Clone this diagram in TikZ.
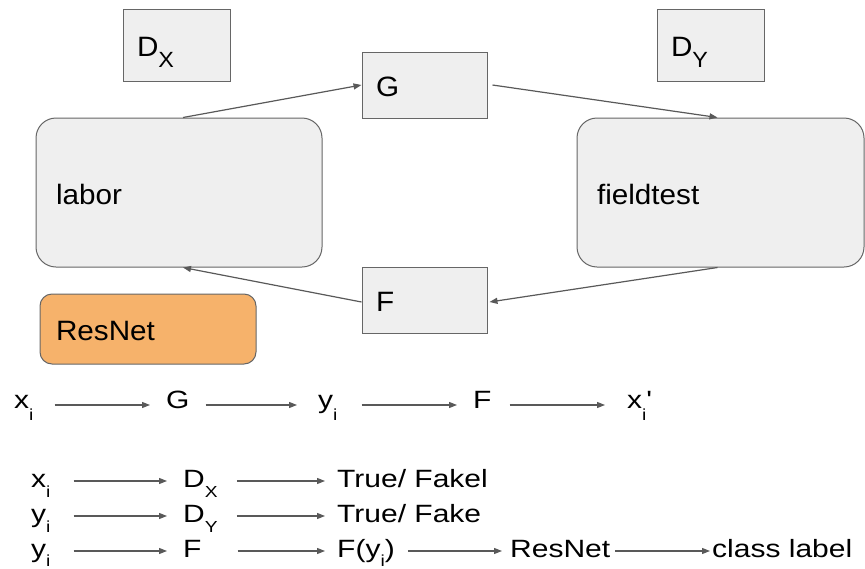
\documentclass[tikz,border=0pt]{standalone}
\usepackage{fontspec}
\setmainfont{Liberation Sans}
\newfontfamily\boxfont[FakeStretch=1.06]{Liberation Sans}
\newfontfamily\rowfont[FakeStretch=1.2]{Liberation Sans}
\usetikzlibrary{arrows.meta}
\definecolor{boxfill}{HTML}{EFEFEF}
\definecolor{boxline}{HTML}{666666}
\definecolor{arrowc}{HTML}{595959}
\definecolor{orangefill}{HTML}{F6B26B}
\newcommand\sbs[3]{\raisebox{-#2pt}{\fontsize{#1}{#1}\selectfont #3}}
\begin{document}
\begin{tikzpicture}[x=1pt,y=-1pt,
  gbox/.style={draw=boxline, fill=boxfill, line width=1pt, inner ysep=0pt,
    align=left, text height=23pt, text depth=0pt,
    font=\boxfont\fontsize{28}{28}\selectfont},
  rt/.style={inner sep=0pt, anchor=base west, font=\rowfont\fontsize{25}{25}\selectfont},
  arr/.style={draw=arrowc, line width=1.2pt, -{Triangle[length=8pt,width=6pt]}}]
\useasboundingbox (0,0) rectangle (865,568);

% top boxes
\node[gbox, minimum width=107pt, minimum height=72pt, text width=79pt, inner xsep=14pt] (DX) at (176.5,45) {D\sbs{22}{11}{X}};
\node[gbox, minimum width=107pt, minimum height=72pt, text width=79pt, inner xsep=14pt] (DY) at (710.5,45) {D\sbs{22}{11}{Y}};
\node[gbox, minimum width=125pt, minimum height=66pt, text width=97pt, inner xsep=14pt] (G) at (424.5,85) {G};
\node[gbox, minimum width=125pt, minimum height=66pt, text width=97pt, inner xsep=14pt] (F) at (424.5,300) {F};
\node[gbox, rounded corners=20pt, minimum width=286pt, minimum height=149pt, text width=246pt, inner xsep=20pt] (labor) at (179,192.5) {labor};
\node[gbox, rounded corners=20pt, minimum width=287pt, minimum height=149pt, text width=247pt, inner xsep=20pt] (fieldtest) at (720.5,192.5) {fieldtest};
\node[gbox, fill=orangefill, rounded corners=12pt, minimum width=216pt, minimum height=70pt, text width=184pt, inner xsep=16pt] (resnet) at (148,329) {ResNet};

% cycle arrows
\draw[arr] ([xshift=4pt]labor.north) -- (G.west);
\draw[arr] ([xshift=5pt]G.east) -- ([xshift=-3pt]fieldtest.north);
\draw[arr] ([xshift=-3pt]fieldtest.south) -- ([xshift=2pt,yshift=-2pt]F.east);
\draw[arr] ([yshift=-2pt]F.west) -- ([xshift=4pt]labor.south);

% row 1
\node[rt] (a1) at (14,408) {x\sbs{16}{12}{i}};
\node[rt] (a2) at (166,408) {G};
\node[rt] (a3) at (318,408) {y\sbs{16}{12}{i}};
\node[rt] (a4) at (473,408) {F};
\node[rt] (a5) at (627,408) {x\sbs{16}{12}{i}'};
\draw[arr, shorten <=21pt, shorten >=16pt] ([yshift=3pt]a1.base east) -- ([yshift=3pt]a2.base west);
\draw[arr, shorten <=16pt, shorten >=21pt] ([yshift=3pt]a2.base east) -- ([yshift=3pt]a3.base west);
\draw[arr, shorten <=24pt, shorten >=16pt] ([yshift=3pt]a3.base east) -- ([yshift=3pt]a4.base west);
\draw[arr, shorten <=18pt, shorten >=22pt] ([yshift=3pt]a4.base east) -- ([yshift=3pt]a5.base west);

% row 2
\node[rt] (b1) at (31,487) {x\sbs{16}{10}{i}};
\node[rt] (b2) at (183,487) {D\sbs{16}{10}{X}};
\node[rt] (b3) at (337,487) {True/ Fakel};
\draw[arr, shorten <=23pt, shorten >=16pt] ([yshift=6pt]b1.base east) -- ([yshift=6pt]b2.base west);
\draw[arr, shorten <=19pt, shorten >=12pt] ([yshift=6pt]b2.base east) -- ([yshift=6pt]b3.base west);

% row 3
\node[rt] (c1) at (31,522) {y\sbs{16}{10}{i}};
\node[rt] (c2) at (183,522) {D\sbs{16}{10}{Y}};
\node[rt] (c3) at (337,522) {True/ Fake};
\draw[arr, shorten <=23pt, shorten >=16pt] ([yshift=6pt]c1.base east) -- ([yshift=6pt]c2.base west);
\draw[arr, shorten <=19pt, shorten >=12pt] ([yshift=6pt]c2.base east) -- ([yshift=6pt]c3.base west);

% row 4
\node[rt] (d1) at (31,557) {y\sbs{16}{9}{i}};
\node[rt] (d2) at (183,557) {F};
\node[rt] (d3) at (337,557) {F(y\sbs{16}{9}{i})};
\node[rt] (d4) at (510,557) {ResNet};
\node[rt] (d5) at (712,557) {class label};
\draw[arr, shorten <=23pt, shorten >=16pt] ([yshift=6pt]d1.base east) -- ([yshift=6pt]d2.base west);
\draw[arr, shorten <=36pt, shorten >=12pt] ([yshift=6pt]d2.base east) -- ([yshift=6pt]d3.base west);
\draw[arr, shorten <=13pt, shorten >=8pt] ([yshift=6pt]d3.base east) -- ([yshift=6pt]d4.base west);
\draw[arr, shorten <=5pt, shorten >=2pt] ([yshift=6pt]d4.base east) -- ([yshift=6pt]d5.base west);
\end{tikzpicture}
\end{document}
